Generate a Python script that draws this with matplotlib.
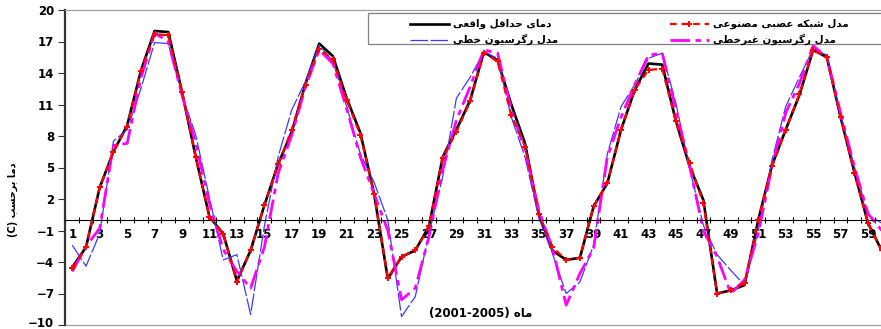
import re
import numpy as np
import matplotlib
matplotlib.use("Agg")
import matplotlib.pyplot as plt
import matplotlib.transforms as mtransforms
from matplotlib.patches import Rectangle


months = np.arange(1, 61)

# دمای حداقل واقعی
actual = [-4.5, -2.6, 3.1, 6.5, 9.0, 14.2, 18.0, 17.9, 12.2, 6.0,
          0.3, -1.3, -5.8, -2.9, 1.4, 5.3, 8.4, 13.0, 16.8, 15.6,
          11.6, 8.3, 2.5, -5.6, -3.5, -2.9, -0.6, 6.0, 8.6, 11.4,
          16.0, 15.2, 11.0, 7.3, 0.6, -2.9, -3.8, -3.6, 1.3, 3.5,
          8.6, 12.4, 14.9, 14.8, 9.4, 5.1, 1.9, -7.0, -6.7, -6.2,
          0.0, 5.2, 8.6, 11.9, 16.2, 15.5, 9.8, 4.6, -0.3, -2.9]
# مدل شبکه عصبی مصنوعی
ann = [-4.6, -2.6, 3.1, 6.5, 8.9, 14.2, 17.7, 17.6, 12.2, 6.0,
       0.3, -1.3, -5.9, -2.9, 1.4, 5.3, 8.6, 12.9, 16.3, 15.3,
       11.4, 8.1, 2.5, -5.5, -3.5, -2.9, -0.6, 5.9, 8.4, 11.3,
       15.9, 15.1, 10.0, 7.0, 0.6, -2.6, -3.8, -3.6, 1.3, 3.5,
       8.6, 12.4, 14.3, 14.4, 9.4, 5.4, 1.6, -7.0, -6.7, -6.0,
       0.0, 5.1, 8.6, 12.0, 16.2, 15.5, 9.8, 4.5, -0.3, -2.9]
# مدل رگرسیون خطی
linear = [-2.4, -4.4, -1.3, 7.5, 8.6, 12.5, 16.9, 16.8, 11.9, 8.1,
          2.1, -3.8, -3.3, -9.0, -0.6, 6.0, 10.5, 13.2, 16.7, 15.1,
          10.8, 6.3, 3.6, 0.0, -9.2, -7.3, -1.3, 4.1, 11.6, 13.6,
          16.0, 15.4, 9.8, 6.0, 0.2, -3.2, -7.0, -5.9, -2.4, 6.3,
          10.8, 12.9, 15.4, 15.9, 11.1, 4.9, -0.5, -3.3, -4.8, -6.2,
          -1.0, 5.7, 10.8, 13.6, 16.3, 15.7, 10.0, 5.1, 0.5, -0.3]
# مدل رگرسیون غیرخطی
nonlinear = [-4.9, -2.5, -0.8, 7.1, 7.3, 13.5, 17.8, 17.0, 11.9, 7.3,
             1.6, -2.8, -4.9, -6.5, -2.6, 4.4, 8.1, 12.7, 16.2, 14.9,
             10.6, 6.0, 2.5, -1.0, -7.6, -6.5, -1.6, 4.8, 9.5, 12.7,
             16.2, 15.9, 10.5, 6.7, 0.95, -2.7, -8.1, -5.1, -2.7, 6.0,
             9.8, 12.9, 15.7, 15.9, 10.5, 5.1, -1.0, -3.5, -7.0, -5.7,
             -1.3, 5.1, 10.2, 13.0, 16.6, 15.5, 10.2, 5.1, 0.6, -1.0]

labels = ["دمای حداقل واقعی", "مدل شبکه عصبی مصنوعی",
          "مدل رگرسیون خطی", "مدل رگرسیون غیرخطی"]
xlabel = "ماه (2001-2005)"
ylabel = "دما برحسب (C)"


# matplotlib has no arabic shaping, so pick the presentation forms by hand
# (isolated, final, initial, medial); None = letter does not join to the next one
FORMS = {
    'ا': ('\uFE8D', '\uFE8E', None, None),
    'ب': ('\uFE8F', '\uFE90', '\uFE91', '\uFE92'),
    'ح': ('\uFEA1', '\uFEA2', '\uFEA3', '\uFEA4'),
    'خ': ('\uFEA5', '\uFEA6', '\uFEA7', '\uFEA8'),
    'د': ('\uFEA9', '\uFEAA', None, None),
    'ر': ('\uFEAD', '\uFEAE', None, None),
    'س': ('\uFEB1', '\uFEB2', '\uFEB3', '\uFEB4'),
    'ش': ('\uFEB5', '\uFEB6', '\uFEB7', '\uFEB8'),
    'ص': ('\uFEB9', '\uFEBA', '\uFEBB', '\uFEBC'),
    'ط': ('\uFEC1', '\uFEC2', '\uFEC3', '\uFEC4'),
    'ع': ('\uFEC9', '\uFECA', '\uFECB', '\uFECC'),
    'غ': ('\uFECD', '\uFECE', '\uFECF', '\uFED0'),
    'ق': ('\uFED5', '\uFED6', '\uFED7', '\uFED8'),
    'ل': ('\uFEDD', '\uFEDE', '\uFEDF', '\uFEE0'),
    'م': ('\uFEE1', '\uFEE2', '\uFEE3', '\uFEE4'),
    'ن': ('\uFEE5', '\uFEE6', '\uFEE7', '\uFEE8'),
    'ه': ('\uFEE9', '\uFEEA', '\uFEEB', '\uFEEC'),
    'و': ('\uFEED', '\uFEEE', None, None),
    'ی': ('\uFBFC', '\uFBFD', '\uFBFE', '\uFBFF'),
    'ک': ('\uFB8E', '\uFB8F', '\uFB90', '\uFB91'),
    'گ': ('\uFB92', '\uFB93', '\uFB94', '\uFB95'),
}


def rtl(s):
    out = []
    for i, ch in enumerate(s):
        if ch not in FORMS:
            out.append(ch)
            continue
        prev = s[i - 1] if i > 0 else ''
        nxt = s[i + 1] if i + 1 < len(s) else ''
        jp = prev in FORMS and FORMS[prev][2] is not None
        jn = nxt in FORMS and FORMS[ch][2] is not None
        iso, fin, ini, med = FORMS[ch]
        if jp and jn:
            out.append(med)
        elif jp:
            out.append(fin)
        elif jn:
            out.append(ini)
        else:
            out.append(iso)
    parts = re.findall(r'[0-9A-Za-z][0-9A-Za-z\-]*|.', ''.join(out))
    mirror = {'(': ')', ')': '('}
    return ''.join(mirror.get(p, p) for p in reversed(parts))


plt.rcParams['font.family'] = ['DejaVu Sans']
plt.rcParams['font.weight'] = 'bold'

W, H = 881, 329
fig = plt.figure(figsize=(W / 100, H / 100), dpi=100)
ax = fig.add_axes([65.4 / W, (H - 325) / H, 823.2 / W, 315 / H])

l_act, = ax.plot(months, actual, color='black', lw=1.9, zorder=2)
l_lin, = ax.plot(months, linear, color='#3a3aff', lw=0.9, ls=(0, (14, 2)), zorder=2.2)
l_non, = ax.plot(months, nonlinear, color='#ff00ff', lw=2.0, ls=(0, (7, 2, 2, 2)), zorder=2.5)
l_ann, = ax.plot(months, ann, color='red', lw=1.6, ls=(0, (3, 2.2)), marker='P',
                 ms=4.5, mew=0, zorder=3)

ax.set_xlim(0.5, 60.5)
ax.set_ylim(-10, 20)

# axes frame: x axis crosses at 0, grey lines on top and bottom
ax.spines['right'].set_visible(False)
ax.spines['left'].set_color('#333333')
ax.spines['left'].set_linewidth(1.6)
ax.spines['top'].set_color('#a0a0a0')
ax.spines['top'].set_linewidth(0.9)
ax.spines['bottom'].set_position(('data', 0))
ax.spines['bottom'].set_linewidth(0.8)
ax.axhline(-10, color='#a0a0a0', lw=0.9, clip_on=False)

ax.set_yticks(np.arange(-10, 21, 3))
ax.tick_params(axis='y', direction='out', length=5, width=0.8, color='#333333',
               labelsize=8.5, pad=3)
ax.set_xticks(months[::2])
ax.set_xticklabels([str(m) for m in months[::2]])
ax.set_xticks(np.arange(0.5, 61, 1), minor=True)
ax.tick_params(axis='x', which='major', length=0, labelsize=8.5, pad=6)
ax.tick_params(axis='x', which='minor', direction='inout', length=5, width=0.8)

# the -10 label sits on the bottom edge, lift it a little so it is not cut
fig.canvas.draw()
lift = mtransforms.ScaledTranslation(0, 3 / 100, fig.dpi_scale_trans)
low = ax.get_yticklabels()[0]
low.set_transform(low.get_transform() + lift)

# legend: two columns, one box
box = Rectangle((368 / W, 1 - 44 / H), (W + 20 - 368) / W, 31.3 / H, transform=fig.transFigure,
                facecolor='white', edgecolor='#808080', lw=0.9, zorder=4.5, clip_on=False)
ax.add_artist(box)
leg_kw = dict(frameon=False, loc='upper left', bbox_transform=fig.transFigure, borderpad=0,
              handlelength=3.7, handletextpad=0.4, labelspacing=0.45,
              prop={'size': 7.5, 'weight': 'bold'})
leg1 = ax.legend([l_act, l_lin], [rtl(labels[0]), rtl(labels[2])],
                 bbox_to_anchor=(405 / W, 1 - 14 / H), **leg_kw)
leg1.set_zorder(5)
ax.add_artist(leg1)
leg2 = ax.legend([l_ann, l_non], [rtl(labels[1]), rtl(labels[3])],
                 bbox_to_anchor=(665 / W, 1 - 14 / H), **leg_kw)
leg2.set_zorder(5)

fig.text(13 / W, 1 - 200 / H, rtl(ylabel), rotation=90, ha='center', va='center',
         fontsize=7, fontweight='bold')
fig.text(481 / W, 1 - 314 / H, rtl(xlabel), ha='center', va='center',
         fontsize=8.5, fontweight='bold')

fig.savefig('out.png', dpi=100)
